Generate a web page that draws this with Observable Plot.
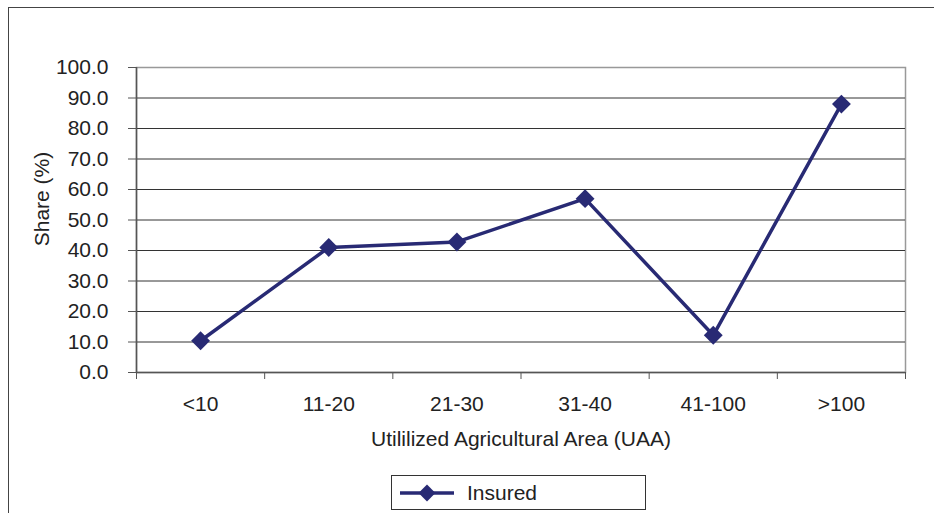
<!DOCTYPE html>
<html>
<head>
<meta charset="utf-8">
<script src="https://cdn.jsdelivr.net/npm/d3@7"></script>
<script src="https://cdn.jsdelivr.net/npm/@observablehq/plot@0.6"></script>
<style>
  html, body { margin: 0; padding: 0; background: #fff; }
  body { width: 934px; height: 513px; position: relative; overflow: hidden;
         font-family: "Liberation Sans", Arial, sans-serif; color: #222; }
  #edge { position: absolute; left: 8px; top: 7px; right: -5px; bottom: -5px;
          border-left: 1.5px solid #444; border-top: 1.5px solid #444; }
  #chart { position: absolute; left: 0; top: 0; }
  #ytitle { position: absolute; left: 42px; top: 199px; font-size: 21px; white-space: nowrap;
            transform: translate(-50%, -50%) rotate(-90deg); }
  #legend { position: absolute; left: 391px; top: 475px; width: 255px; height: 35px;
            border: 1px solid #333; box-sizing: border-box; display: flex; align-items: center;
            font-size: 21px; background: #fff; }
  #legend svg { margin-left: 8px; margin-right: 13px; }
</style>
</head>
<body>
<div id="edge"></div>
<div id="chart"></div>
<div id="ytitle"></div>
<div id="legend"></div>
<script>
// Share of insured farms by Utilized Agricultural Area class (ha)
const categories = ["<10", "11-20", "21-30", "31-40", "41-100", ">100"];
const insured = [10.4, 41.0, 42.8, 57.0, 12.2, 88.0];
const yTicks = [0, 10, 20, 30, 40, 50, 60, 70, 80, 90, 100];
const seriesName = "Insured";
const xTitle = "Utililized Agricultural Area (UAA)";
const yTitle = "Share (%)";

const navy = "#282A74";
const data = categories.map((c, i) => ({i, cat: c, value: insured[i]}));
// category slots sit at integer positions; tick marks fall on the slot edges
const slots = d3.range(categories.length);
const edges = d3.range(categories.length + 1).map(k => k - 0.5);

const chart = Plot.plot({
  width: 934,
  height: 460,
  marginLeft: 136,
  marginRight: 29,
  marginTop: 67,
  marginBottom: 88,
  style: {fontFamily: "'Liberation Sans', Arial, sans-serif", fontSize: "21px", color: "#222", background: "transparent"},
  x: {type: "linear", domain: [-0.5, categories.length - 0.5]},
  y: {domain: [0, 100]},
  marks: [
    Plot.frame({stroke: "#999", strokeWidth: 1.5}),
    Plot.ruleY(yTicks.slice(1, -1), {stroke: "#333", strokeWidth: 1}),
    Plot.axisY({ticks: yTicks, tickFormat: d => d.toFixed(1), tickSize: 8, tickPadding: 20, label: null, stroke: "#555", fontSize: 21}),
    Plot.axisX({ticks: edges, tickSize: 7, tickFormat: () => "", label: null, stroke: "#555"}),
    Plot.axisX({ticks: slots, tickSize: 0, tickPadding: 24, tickFormat: i => categories[i], label: null, fontSize: 21}),
    Plot.ruleX([-0.5], {stroke: "#555", strokeWidth: 1.5}),
    Plot.ruleY([0], {stroke: "#555", strokeWidth: 1.5}),
    Plot.line(data, {x: "i", y: "value", stroke: navy, strokeWidth: 3.5}),
    Plot.dot(data, {x: "i", y: "value", symbol: "diamond2", r: 8.5, fill: navy}),
    Plot.text([xTitle], {frameAnchor: "bottom", dy: 73, fill: "#222", fontSize: 21})
  ]
});
document.getElementById("chart").append(chart);
document.getElementById("ytitle").textContent = yTitle;

// legend: line sample with diamond marker, then the series name
const legend = d3.select("#legend");
const sw = legend.append("svg").attr("width", 54).attr("height", 20);
sw.append("line").attr("x1", 0).attr("x2", 54).attr("y1", 10).attr("y2", 10)
  .attr("stroke", navy).attr("stroke-width", 3.5);
sw.append("path").attr("transform", "translate(27,10)")
  .attr("d", d3.symbol(d3.symbolDiamond2, 8.5 * 8.5 * Math.PI * 0.8)()).attr("fill", navy);
legend.append("span").text(seriesName);
</script>
</body>
</html>
